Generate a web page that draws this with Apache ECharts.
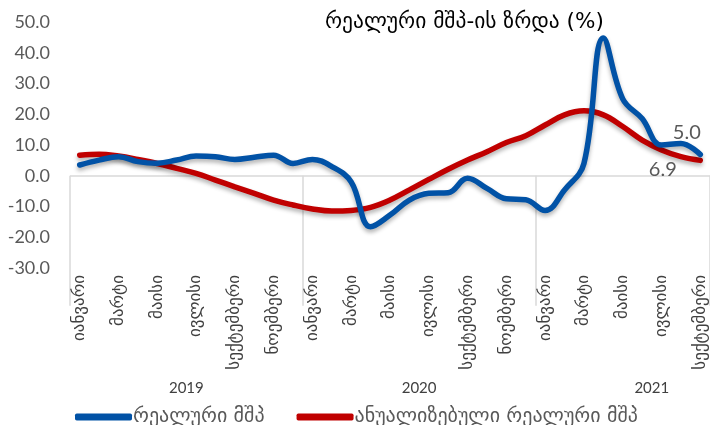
<!DOCTYPE html>
<html lang="ka">
<head>
    <meta charset="UTF-8">
    <title>რეალური მშპ-ის ზრდა</title>
    <script src="https://cdn.jsdelivr.net/npm/echarts@6/dist/echarts.min.js"></script>
    <style>
        html, body { margin: 0; padding: 0; background: #fff; }
    </style>
</head>
<body>
<div id="main" style="width: 710px;height:425px;"></div>
<script>
    // თვეები (2019 იანვარი - 2021 სექტემბერი)
    var monthNames = ['იანვარი', 'თებერვალი', 'მარტი', 'აპრილი', 'მაისი', 'ივნისი',
        'ივლისი', 'აგვისტო', 'სექტემბერი', 'ოქტომბერი', 'ნოემბერი', 'დეკემბერი'];
    var months = [];
    for (var y = 0; y < 3; y++) {
        for (var m = 0; m < 12; m++) {
            if (y === 2 && m > 8) break;
            months.push(monthNames[m]);
        }
    }
    var years = ['2019', '2020', '2021'];
    var yearCenters = [6, 18, 30]; // თვეებში, წლის შუა

    var realGdp = [3.5, 5.1, 6.2, 4.6, 4.1, 5.1, 6.4, 6.2, 5.3, 6.0, 6.7, 4.0,
        5.3, 3.0, -2.0, -16.6, -12.8, -7.9, -5.7, -5.5, -0.8, -4.1, -7.5, -7.8,
        -11.3, -4.6, 4.0, 44.8, 25.0, 18.6, 10.0, 10.5, 6.9];
    var annualGdp = [6.7, 7.0, 6.4, 5.3, 4.0, 2.4, 0.8, -1.4, -3.6, -5.7, -7.9, -9.5,
        -10.8, -11.5, -11.3, -10.3, -7.9, -4.6, -1.2, 2.1, 5.1, 7.8, 10.8, 13.0,
        16.5, 19.8, 21.1, 19.8, 16.0, 11.6, 8.4, 6.2, 5.0];

    var yTicks = [-30, 50, 10];

    var myChart = echarts.init(document.getElementById('main'));

    // ხაზი + ბოლო მნიშვნელობის ლეიბლი
    function lineSeries(name, data, color, z, labelOffset) {
        return {
            name: name,
            type: 'line',
            data: data,
            smooth: 0.4,
            symbol: 'none',
            color: color,
            lineStyle: {
                width: 5.5, color: color, cap: 'round',
                shadowColor: 'rgba(0,0,0,0.3)', shadowBlur: 4, shadowOffsetY: 3
            },
            endLabel: {
                show: true,
                distance: 0,
                offset: labelOffset,
                align: 'center',
                verticalAlign: 'middle',
                formatter: function (p) { return p.value.toFixed(1); },
                color: '#595959', fontSize: 20, fontFamily: 'Lato'
            },
            z: z
        };
    }

    var option = {
        animation: false,
        title: {
            text: 'რეალური მშპ-ის ზრდა (%)',
            left: 320,
            top: 6,
            textStyle: {color: '#000', fontSize: 21.5, fontWeight: 'normal', fontFamily: "'DejaVu Sans'"}
        },
        grid: {left: 70, right: 0, top: 22, bottom: 157, containLabel: false},
        legend: {
            left: 70,
            top: 402,
            icon: 'roundRect',
            itemWidth: 57,
            itemHeight: 7,
            itemGap: 32,
            textStyle: {color: '#595959', fontSize: 20, fontFamily: "'DejaVu Sans'", padding: [0, 0, 0, -4]},
            data: ['რეალური მშპ', 'ანუალიზებული რეალური მშპ']
        },
        xAxis: [{
            type: 'category',
            data: months,
            boundaryGap: true,
            axisLine: {show: false},
            axisTick: {
                show: true, length: 130,
                interval: function (idx) { return idx % 12 === 0; },
                lineStyle: {color: '#d9d9d9', width: 1.5}
            },
            axisLabel: {
                interval: 1, rotate: 90, margin: 7,
                color: '#404040', fontSize: 17, fontFamily: "'DejaVu Sans'"
            }
        }, {
            type: 'value',
            min: 0, max: months.length, interval: 1.5,
            position: 'bottom',
            offset: 105,
            axisLine: {show: false},
            axisTick: {show: false},
            splitLine: {show: false},
            axisLabel: {
                margin: 8, color: '#404040', fontSize: 15, fontFamily: 'Lato',
                showMinLabel: false, showMaxLabel: false,
                formatter: function (v) {
                    var k = yearCenters.indexOf(Math.round(v * 10) / 10);
                    return k >= 0 ? years[k] : '';
                }
            }
        }],
        yAxis: {
            type: 'value',
            min: yTicks[0], max: yTicks[1], interval: yTicks[2],
            axisLine: {show: false},
            axisTick: {show: false},
            splitLine: {
                show: true,
                lineStyle: {
                    width: 1.5,
                    color: ['transparent', 'transparent', 'transparent', '#d9d9d9',
                        'transparent', 'transparent', 'transparent', 'transparent', 'transparent']
                }
            },
            axisLabel: {
                margin: 20, color: '#595959', fontSize: 18, fontFamily: 'Lato',
                formatter: function (v) { return v.toFixed(1); }
            }
        },
        series: [
            lineSeries('რეალური მშპ', realGdp, '#0152a6', 3, [-37.5, 15]),
            lineSeries('ანუალიზებული რეალური მშპ', annualGdp, '#c00000', 2, [-13.5, -28])
        ]
    };

    myChart.setOption(option);
</script>
</body>
</html>
